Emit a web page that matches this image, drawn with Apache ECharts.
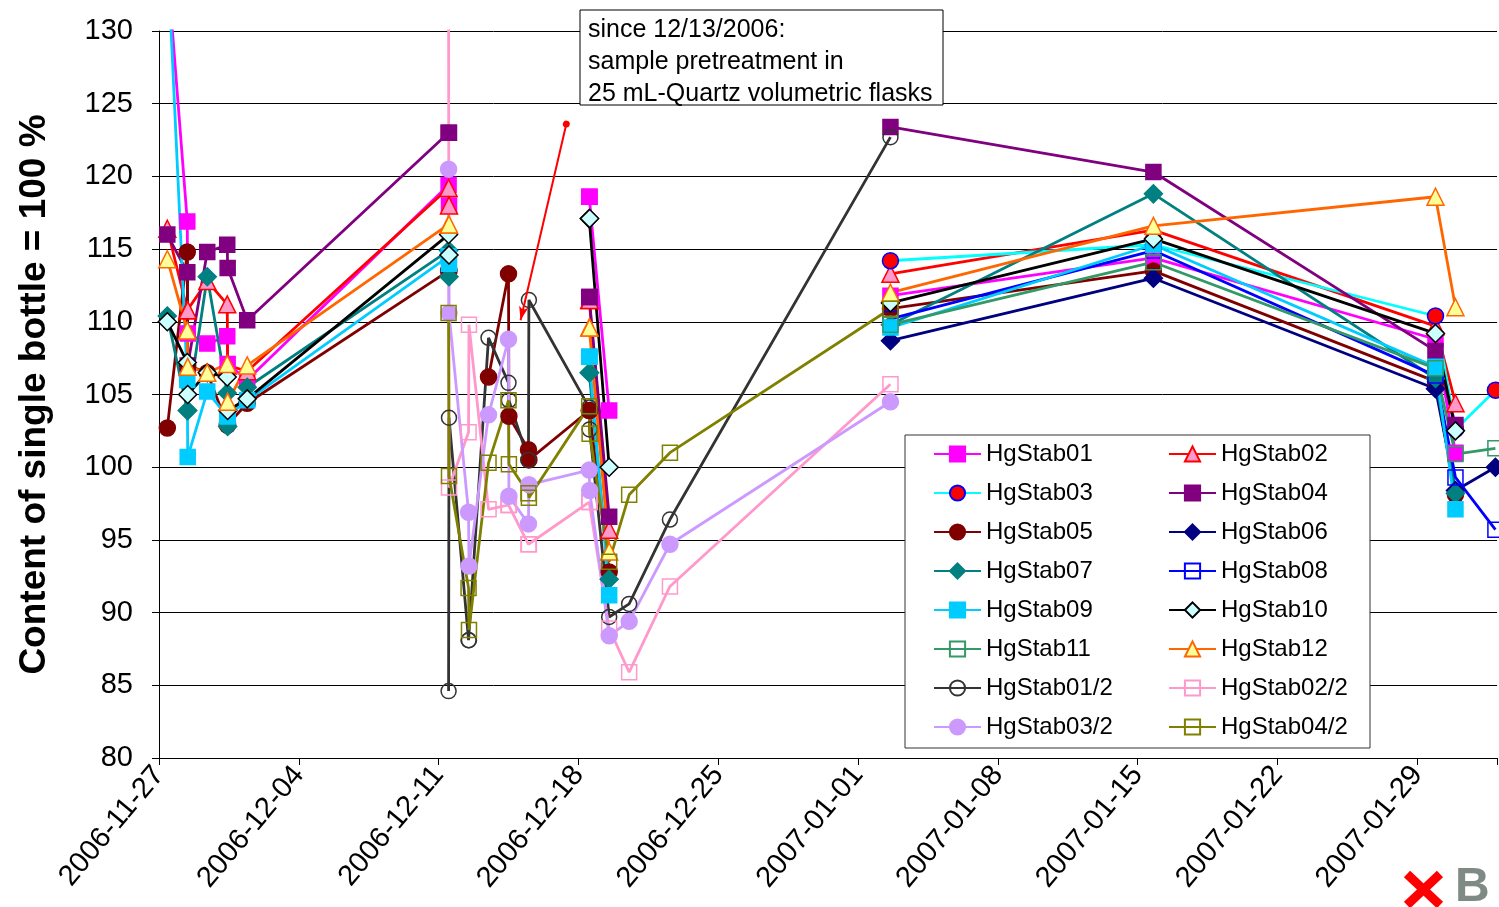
<!DOCTYPE html>
<html>
<head>
<meta charset="utf-8">
<script src="https://cdn.jsdelivr.net/npm/echarts@6/dist/echarts.min.js"></script>
<style>
  html, body { margin: 0; padding: 0; background: #fff; }
  #chart { width: 1499px; height: 907px; }
</style>
</head>
<body>
<div id="chart"></div>
<script>
var n = null;
var startDate = '2006-11-27 00:00';

// measurement times (some days have two readings)
var dates = [
  '2006-11-27 10:00', '2006-11-28 10:00', '2006-11-28 10:30', '2006-11-29 10:00',
  '2006-11-30 10:00', '2006-11-30 10:30', '2006-12-01 10:00',
  '2006-12-11 12:00', '2006-12-11 12:30', '2006-12-12 12:00', '2006-12-12 12:30',
  '2006-12-13 12:00', '2006-12-14 12:00', '2006-12-14 12:30', '2006-12-15 12:00', '2006-12-15 12:30',
  '2006-12-18 13:00', '2006-12-18 13:30', '2006-12-19 13:00', '2006-12-20 13:00', '2006-12-22 14:00',
  '2007-01-02 15:00', '2007-01-15 19:00', '2007-01-29 22:00', '2007-01-30 22:00', '2007-02-01 22:00'
];

var hgStab01 = [134.5, 116.9, 109.2, 108.5, 109.0, 107.1, 106.0, 119.4, 118.0, n, n, n, n, n, n, n, 118.6, 118.6, 103.9, n, n, 111.8, 114.4, 108.8, 101.0, n];
var hgStab02 = [116.4, 110.8, 110.8, 112.8, 111.2, 107.0, 106.6, 119.2, 118.0, n, n, n, n, n, n, n, 111.5, 111.5, 95.7, n, n, 113.3, 116.3, 109.7, 104.4, n];
var hgStab03 = [n, n, n, n, n, n, n, n, n, n, n, n, n, n, n, n, n, n, n, n, n, 114.2, 115.3, 110.4, 102.6, 105.3];
var hgStab04 = [116.0, 113.4, 107.0, 114.8, 115.3, 113.7, 110.1, 123.0, 123.0, n, n, n, n, n, n, n, 111.7, 111.7, 96.6, n, n, 123.4, 120.3, 108.0, 102.9, n];
var hgStab05 = [102.7, 114.8, 107.0, 106.5, 102.9, 102.9, 104.4, 113.5, 113.5, n, n, 106.2, 113.3, 103.5, 101.2, 100.5, 103.9, 103.9, 92.8, n, n, 110.9, 113.5, 105.9, 98.1, n];
var hgStab06 = [n, n, n, n, n, n, n, n, n, n, n, n, n, n, n, n, n, n, n, n, n, 108.7, 113.0, 105.4, 98.4, 100.0];
var hgStab07 = [110.4, 103.9, 103.9, 113.1, 105.1, 102.8, 105.5, 114.9, 113.1, n, n, n, n, n, n, n, 106.5, 106.5, 92.3, n, n, 109.8, 118.8, 106.1, 98.2, n];
var hgStab08 = [n, n, n, n, n, n, n, n, n, n, n, n, n, n, n, n, n, n, n, n, n, 110.2, 114.9, 106.3, 99.3, 95.7];
var hgStab09 = [135.6, 106.0, 100.7, 105.2, 103.5, 103.5, 104.6, 114.5, 114.0, n, n, n, n, n, n, n, 107.6, 107.6, 91.2, n, n, 109.6, 115.3, 106.9, 97.1, n];
var hgStab10 = [110.0, 107.2, 105.0, 106.5, 106.2, 103.9, 104.7, 116.0, 114.6, n, n, n, n, n, n, n, 117.1, 117.1, 100.0, n, n, 111.3, 115.7, 109.2, 102.5, n];
var hgStab11 = [n, n, n, n, n, n, n, n, n, n, n, n, n, n, n, n, n, n, n, n, n, 109.8, 114.1, 106.8, 100.9, 101.3];
var hgStab12 = [114.3, 109.4, 106.9, 106.5, 107.1, 104.5, 107.0, 116.7, 116.7, n, n, n, n, n, n, n, 109.6, 109.6, 94.2, n, n, 112.0, 116.6, 118.6, 111.0, n];
var hgStab01_2 = [n, n, n, n, n, n, n, 84.6, 103.4, 88.1, 88.1, 108.9, 105.8, 104.6, 100.5, 111.5, 104.1, 102.6, 89.7, 90.6, 96.4, 122.7, n, n, n, n];
var hgStab02_2 = [n, n, n, n, n, n, n, 135.0, 98.6, 102.4, 109.8, 97.1, 97.4, 97.4, 94.7, 94.7, 97.6, 97.6, 88.9, 85.9, 91.8, 105.7, n, n, n, n];
var hgStab03_2 = [n, n, n, n, n, n, n, 120.5, 110.6, 96.9, 93.2, 103.6, 108.8, 98.0, 96.1, 98.8, 99.8, 98.4, 88.4, 89.4, 94.7, 104.5, n, n, n, n];
var hgStab04_2 = [n, n, n, n, n, n, n, 110.6, 99.4, 91.7, 88.8, 100.3, 104.6, 100.2, 98.2, 97.9, 104.2, 102.3, 93.5, 98.1, 101.0, 110.9, n, n, n, n];

// annotation arrow: [time, value]
var arrowFrom = ['2006-12-17 09:30', 123.6];
var arrowTo = ['2006-12-15 02:30', 110.1];

var legendLeft = ['HgStab01', 'HgStab03', 'HgStab05', 'HgStab07', 'HgStab09', 'HgStab11', 'HgStab01/2', 'HgStab03/2'];
var legendRight = ['HgStab02', 'HgStab04', 'HgStab06', 'HgStab08', 'HgStab10', 'HgStab12', 'HgStab02/2', 'HgStab04/2'];

var font = '"Liberation Sans", Arial, sans-serif';

function dayOf(s) {
  var p = s.split(/[- :]/);
  var q = startDate.split(/[- :]/);
  return (Date.UTC(+p[0], p[1] - 1, +p[2], +p[3], +p[4]) - Date.UTC(+q[0], q[1] - 1, +q[2])) / 864e5;
}

function toData(vals) {
  return dates.map(function (d, i) {
    return [dayOf(d), vals[i] == null ? '-' : vals[i]];
  });
}

function line(name, vals, symbol, fill, border, color, size) {
  return {
    name: name,
    type: 'line',
    data: toData(vals),
    symbol: symbol,
    symbolSize: size || 15,
    connectNulls: false,
    lineStyle: { color: color, width: 2.8 },
    itemStyle: { color: fill, borderColor: border, borderWidth: 1.5 },
    emphasis: { disabled: true }
  };
}

var none = 'rgba(255,255,255,0)';

var series = [
  line('HgStab01', hgStab01, 'rect', '#FF00FF', '#FF00FF', '#FF00FF', 15),
  line('HgStab02', hgStab02, 'triangle', '#FF99CC', '#FF0000', '#FF0000', 17),
  line('HgStab03', hgStab03, 'circle', '#FF0000', '#0000FF', '#00FFFF', 16),
  line('HgStab04', hgStab04, 'rect', '#800080', '#800080', '#800080', 15),
  line('HgStab05', hgStab05, 'circle', '#800000', '#800000', '#800000', 16),
  line('HgStab06', hgStab06, 'diamond', '#000080', '#000080', '#000080', 18),
  line('HgStab07', hgStab07, 'diamond', '#008080', '#008080', '#008080', 18),
  line('HgStab08', hgStab08, 'rect', none, '#0000FF', '#0000FF', 15),
  line('HgStab09', hgStab09, 'rect', '#00CCFF', '#00CCFF', '#00CCFF', 15),
  line('HgStab10', hgStab10, 'diamond', '#CCFFFF', '#000000', '#000000', 18),
  line('HgStab11', hgStab11, 'rect', none, '#339966', '#339966', 15),
  line('HgStab12', hgStab12, 'triangle', '#FFFF99', '#FF6600', '#FF6600', 17),
  line('HgStab01/2', hgStab01_2, 'circle', none, '#333333', '#333333', 15),
  line('HgStab02/2', hgStab02_2, 'rect', none, '#FF99CC', '#FF99CC', 15),
  line('HgStab03/2', hgStab03_2, 'circle', '#CC99FF', '#CC99FF', '#CC99FF', 16),
  line('HgStab04/2', hgStab04_2, 'rect', none, '#808000', '#808000', 15)
];

// red arrow pointing at the change of pretreatment
series[1].markLine = {
  silent: true,
  symbol: ['circle', 'arrow'],
  symbolSize: [7, 14],
  label: { show: false },
  lineStyle: { color: '#FF0000', width: 2, type: 'solid' },
  data: [[
    { coord: [dayOf(arrowFrom[0]), arrowFrom[1]] },
    { coord: [dayOf(arrowTo[0]), arrowTo[1]] }
  ]]
};

function legendCfg(left, data) {
  return {
    orient: 'vertical',
    left: left,
    top: 436,
    itemWidth: 47,
    itemHeight: 19,
    itemGap: 13,
    selectedMode: false,
    data: data,
    textStyle: { fontSize: 24, color: '#000', fontFamily: font, lineHeight: 26 }
  };
}

var myChart = echarts.init(document.getElementById('chart'));

var option = {
  animation: false,
  backgroundColor: '#fff',
  grid: { left: 159, top: 31, width: 1340, height: 727 },
  xAxis: {
    type: 'value',
    min: 0,
    max: 67,
    interval: 7,
    axisLine: { lineStyle: { color: '#000', width: 1 } },
    axisTick: { length: 7, lineStyle: { color: '#000' } },
    splitLine: { show: false },
    axisLabel: {
      rotate: 50,
      fontSize: 29,
      color: '#000',
      fontFamily: font,
      margin: 12,
      formatter: function (v) {
        if (Math.abs(v % 7) > 1e-6) return '';
        var q = startDate.split(/[- :]/);
        var d = new Date(Date.UTC(+q[0], q[1] - 1, +q[2]) + v * 864e5);
        return d.toISOString().slice(0, 10);
      }
    }
  },
  yAxis: {
    type: 'value',
    min: 80,
    max: 130,
    interval: 5,
    name: 'Content of single bottle = 100 %',
    nameLocation: 'middle',
    nameGap: 106,
    nameTextStyle: { fontSize: 37, fontWeight: 'bold', color: '#000', fontFamily: font },
    axisLine: { show: true, lineStyle: { color: '#000', width: 1 } },
    axisTick: { show: true, length: 7, lineStyle: { color: '#000' } },
    splitLine: { lineStyle: { color: '#000', width: 1 } },
    axisLabel: { fontSize: 29, color: '#000', fontFamily: font, margin: 26 }
  },
  legend: [legendCfg(928, legendLeft), legendCfg(1163, legendRight)],
  graphic: [
    {
      type: 'rect',
      z: 3,
      shape: { x: 905, y: 435, width: 465, height: 313 },
      style: { fill: '#fff', stroke: '#333', lineWidth: 1 }
    },
    {
      type: 'rect',
      z: 3,
      shape: { x: 580, y: 10, width: 363, height: 95 },
      style: { fill: '#fff', stroke: '#000', lineWidth: 1 }
    },
    {
      type: 'text',
      z: 4,
      left: 588,
      top: 14,
      style: {
        text: 'since 12/13/2006:\nsample pretreatment in\n25 mL-Quartz volumetric flasks',
        font: '25px ' + font,
        lineHeight: 32,
        fill: '#000'
      }
    },
    {
      type: 'line',
      z: 4,
      shape: { x1: 1407, y1: 874, x2: 1440, y2: 905 },
      style: { stroke: '#FF0000', lineWidth: 9 }
    },
    {
      type: 'line',
      z: 4,
      shape: { x1: 1440, y1: 874, x2: 1407, y2: 905 },
      style: { stroke: '#FF0000', lineWidth: 9 }
    },
    {
      type: 'text',
      z: 4,
      left: 1455,
      top: 864,
      style: { text: 'B', font: 'bold 48px ' + font, fill: '#7F8A85' }
    }
  ],
  series: series
};

myChart.setOption(option);
</script>
</body>
</html>
